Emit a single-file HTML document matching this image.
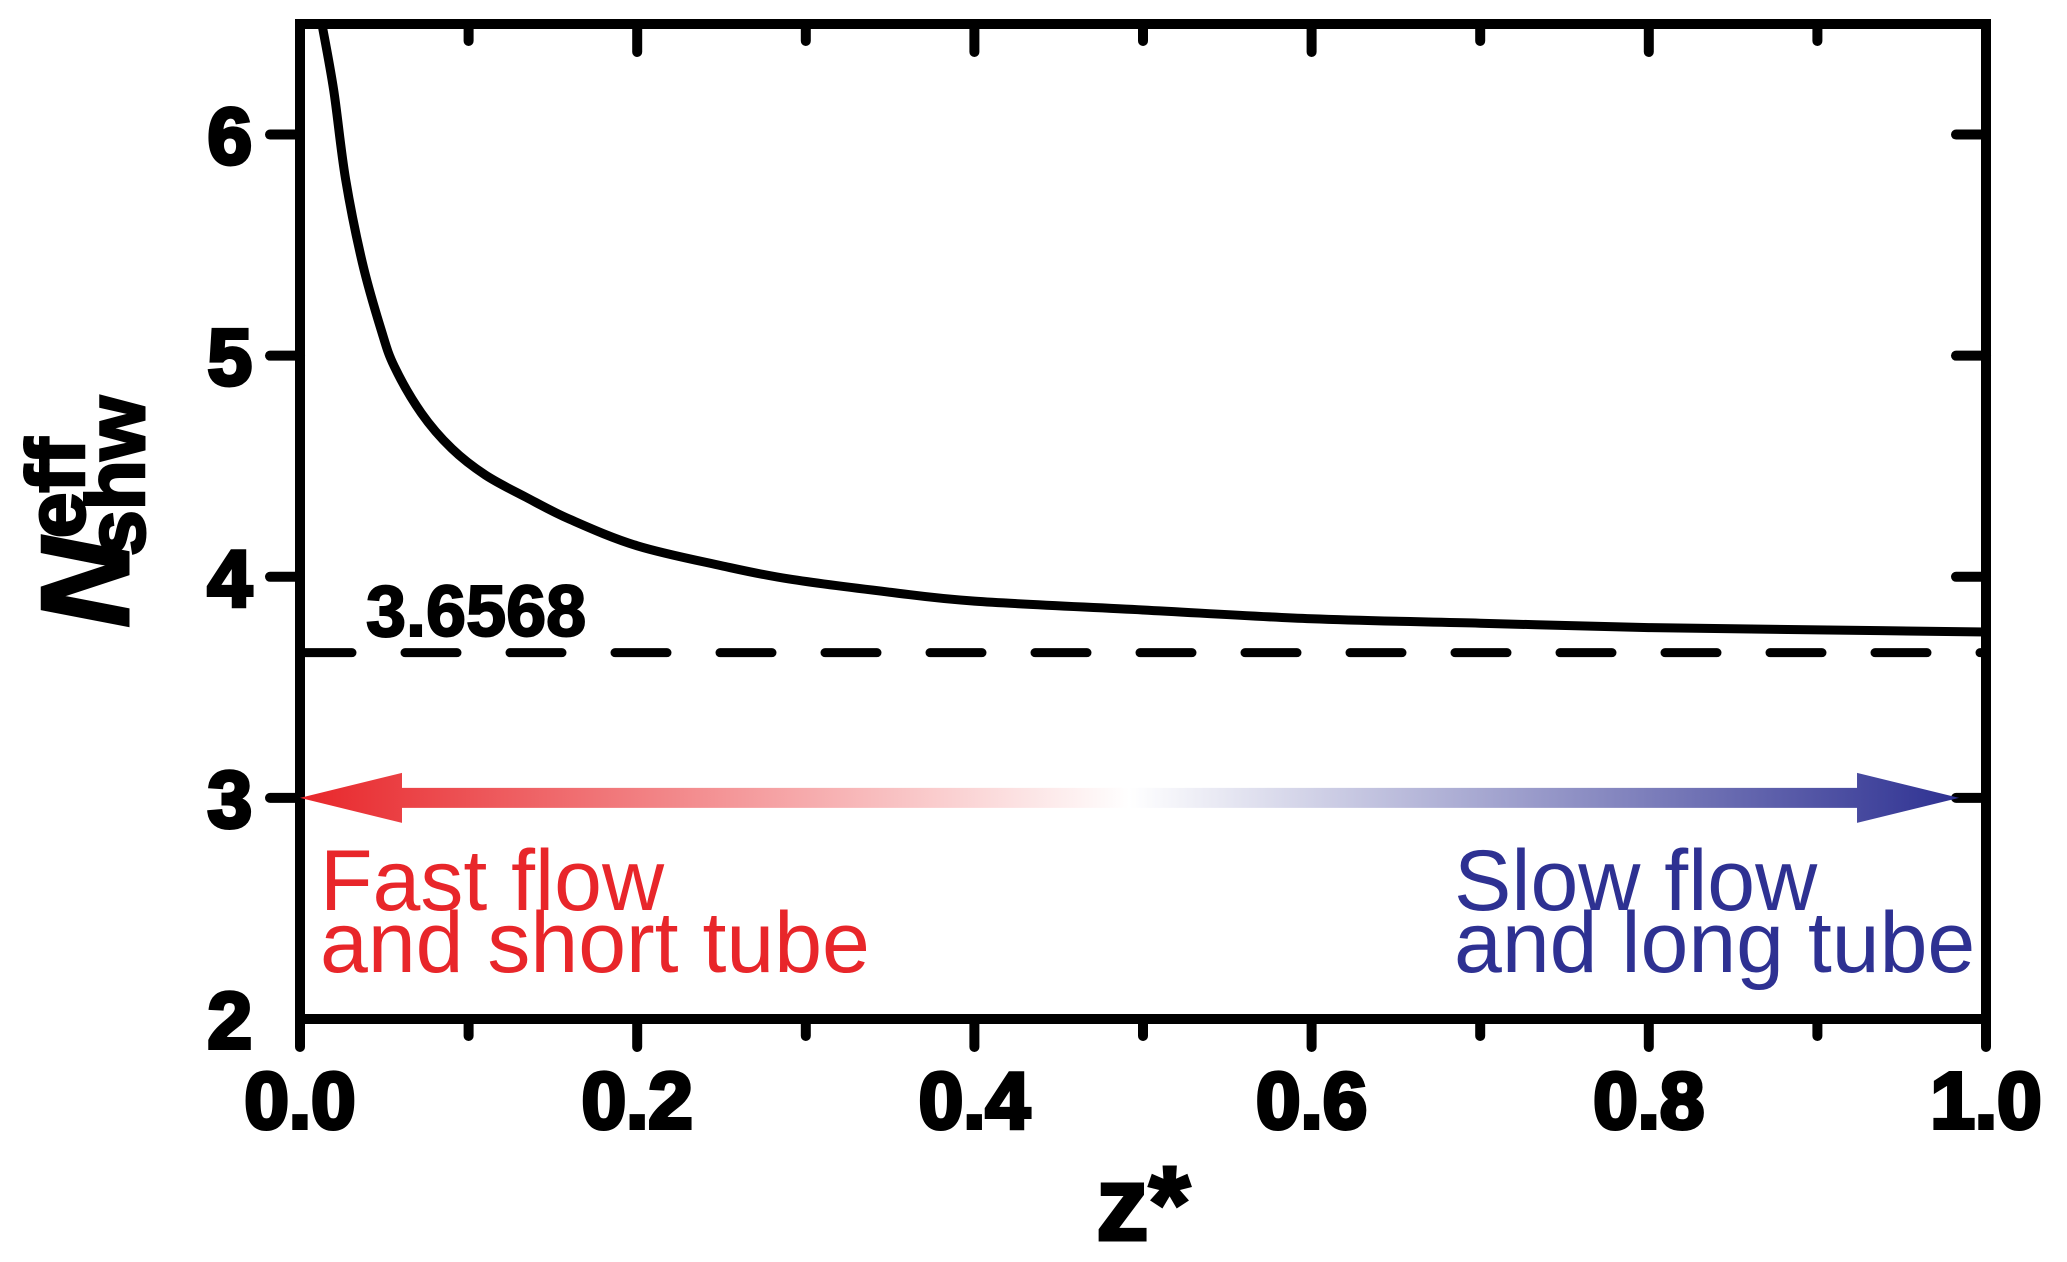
<!DOCTYPE html>
<html><head><meta charset="utf-8"><style>
html,body{margin:0;padding:0;background:#fff;}
svg{display:block;font-family:"Liberation Sans",Arial,sans-serif;}
</style></head><body>
<svg id="chart" width="2067" height="1262" viewBox="0 0 2067 1262" xmlns="http://www.w3.org/2000/svg">
<defs>
<linearGradient id="grad" x1="0" x2="1" y1="0" y2="0">
<stop offset="0" stop-color="#e8262a"/>
<stop offset="0.5" stop-color="#ffffff"/>
<stop offset="1" stop-color="#2e3192"/>
</linearGradient>
</defs>
<g id="plot"></g>
<g id="arrow"></g>
<text x="320" y="910" fill="#e8262a" font-size="86">Fast flow</text>
<text x="320" y="972" fill="#e8262a" font-size="86">and short tube</text>
<text x="1454" y="910" fill="#2e3192" font-size="86">Slow flow</text>
<text x="1454" y="972" fill="#2e3192" font-size="86">and long tube</text>
<text x="366" y="636" font-size="72" font-weight="bold" stroke="#000" stroke-width="2">3.6568</text>
<text x="1143" y="1240" font-size="106" font-weight="bold" text-anchor="middle" stroke="#000" stroke-width="3">z*</text>
<g transform="translate(128,512) rotate(-90)">
<text text-anchor="middle" font-weight="bold" stroke="#000" stroke-width="3"><tspan font-size="124" font-style="italic">N</tspan><tspan font-size="82" dy="-44">eff</tspan><tspan font-size="82" dx="-118" dy="60">shw</tspan></text>
</g>
</svg>
<script>
const xTicks=[0,0.2,0.4,0.6,0.8,1.0];
const xTickLabels=["0.0","0.2","0.4","0.6","0.8","1.0"];
const yTicks=[2,3,4,5,6];
const yTickLabels=["2","3","4","5","6"];
const zValues=[0.013,0.02,0.027,0.037,0.048,0.056,0.072,0.09,0.11,0.134,0.16,0.2,0.25,0.29,0.35,0.4,0.5,0.6,0.7,0.8,0.9,1.0];
const nValues=[6.5,6.2,5.8,5.42,5.12,4.95,4.74,4.58,4.46,4.36,4.26,4.14,4.05,3.99,3.93,3.89,3.85,3.81,3.79,3.77,3.76,3.75];
const asymptote=[3.6568];
const L=300,R=1986,T=24,B=1019,ymin=2,ymax=6.5;
const sx=v=>L+(R-L)*v;
const sy=v=>B-(B-T)*(v-ymin)/(ymax-ymin);
const NS="http://www.w3.org/2000/svg";
const plot=document.getElementById('plot');
function mk(tag,attrs,parent){const e=document.createElementNS(NS,tag);for(const k in attrs)e.setAttribute(k,attrs[k]);(parent||plot).appendChild(e);return e;}
let d=mk('line',{x1:L,x2:R,y1:sy(asymptote[0]),y2:sy(asymptote[0]),stroke:'#000','stroke-width':9,'stroke-dasharray':'52 53','stroke-linecap':'round'});


const P=zValues.map((z,i)=>[sx(z),sy(nValues[i])]);
let path='M'+P[0][0]+','+P[0][1];
for(let i=0;i<P.length-1;i++){
  const p0=P[Math.max(0,i-1)],p1=P[i],p2=P[i+1],p3=P[Math.min(P.length-1,i+2)];
  const c1=[p1[0]+(p2[0]-p0[0])/6,p1[1]+(p2[1]-p0[1])/6];
  const c2=[p2[0]-(p3[0]-p1[0])/6,p2[1]-(p3[1]-p1[1])/6];
  path+=' C'+c1[0]+','+c1[1]+' '+c2[0]+','+c2[1]+' '+p2[0]+','+p2[1];
}
let c=mk('path',{d:path,fill:'none',stroke:'#000','stroke-width':9,'stroke-linejoin':'round'});


let f=mk('rect',{x:L,y:T,width:R-L,height:B-T,fill:'none',stroke:'#000','stroke-width':10});


for(let i=0;i<=10;i++){
  const v=i/10, major=i%2===0, x=sx(v);
  let t=mk('line',{x1:x,x2:x,y1:B,y2:B+(major?28:17),stroke:'#000','stroke-width':10,'stroke-linecap':'round'});
  
  
  if(i>0&&i<10){let t2=mk('line',{x1:x,x2:x,y1:T,y2:T+(major?28:17),stroke:'#000','stroke-width':10,'stroke-linecap':'round'});
  
  }
}
xTicks.forEach((v,i)=>{
  let t=mk('text',{x:sx(v),y:1128,'text-anchor':'middle','font-size':80,'font-weight':'bold',stroke:'#000','stroke-width':4});
  t.textContent=xTickLabels[i];
  
  
});
yTicks.forEach((v,i)=>{
  const y=sy(v);
  if(v>2){
  let t=mk('line',{x1:L-30,x2:L,y1:y,y2:y,stroke:'#000','stroke-width':10,'stroke-linecap':'round'});
  
  
  let t2=mk('line',{x1:R-30,x2:R,y1:y,y2:y,stroke:'#000','stroke-width':10,'stroke-linecap':'round'});
  
  }
  let l=mk('text',{x:252,y:y+29,'text-anchor':'end','font-size':80,'font-weight':'bold',stroke:'#000','stroke-width':4});
  l.textContent=yTickLabels[i];
  
  
});
const ar=document.getElementById('arrow');
const ay=sy(3), x0=sx(0), x1=sx(0.984), hw=102, sh=10, hh=25;
let p=mk('polygon',{points:[
 [x0,ay],[x0+hw,ay-hh],[x0+hw,ay-sh],[x1-hw,ay-sh],[x1-hw,ay-hh],[x1,ay],[x1-hw,ay+hh],[x1-hw,ay+sh],[x0+hw,ay+sh],[x0+hw,ay+hh]
].map(q=>q.join(',')).join(' '),fill:'url(#grad)'},ar);


</script>
</body></html>
